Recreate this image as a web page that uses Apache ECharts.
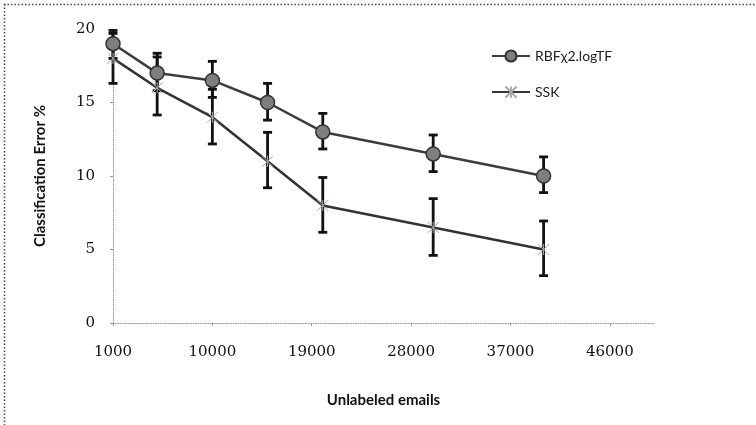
<!DOCTYPE html>
<html>
<head>
<meta charset="utf-8">
<script src="https://cdn.jsdelivr.net/npm/echarts@6/dist/echarts.min.js"></script>
<style>
  html, body { margin: 0; padding: 0; background: #fff; }
  #chart { width: 756px; height: 425px; }
</style>
</head>
<body>
<div id="chart"></div>
<script>
// данные
const emails   = [1000, 5000, 10000, 15000, 20000, 30000, 40000];
const rbfErr   = [19, 17, 16.5, 15, 13, 11.5, 10];
const rbfLow   = [18.0, 15.8, 15.35, 13.8, 11.84, 10.3, 8.87];
const rbfHigh  = [19.9, 18.35, 17.8, 16.3, 14.26, 12.79, 11.3];
const sskErr   = [18, 16, 14, 11, 8, 6.5, 5];
const sskLow   = [16.3, 14.15, 12.18, 9.2, 6.17, 4.6, 3.22];
const sskHigh  = [19.7, 18.1, 15.9, 12.97, 9.9, 8.46, 6.94];
const xTicks   = [1000, 10000, 19000, 28000, 37000, 46000];
const seriesNames = ['RBF\u03c72.logTF', 'SSK'];

const numFont  = "'DejaVu Serif', 'Liberation Serif', serif";
const sansFont = "'Liberation Sans Narrow', Lato, 'Noto Sans', sans-serif";

function bars(lo, hi) {
  return emails.map(function (x, i) { return [x, lo[i], hi[i]]; });
}

function errorBar(params, api) {
  const x = api.value(0);
  const top = api.coord([x, api.value(2)]);
  const bot = api.coord([x, api.value(1)]);
  const w = 4.5;
  const st = { stroke: '#111', lineWidth: 2.8 };
  return {
    type: 'group',
    children: [
      { type: 'line', shape: { x1: top[0], y1: top[1], x2: bot[0], y2: bot[1] }, style: st },
      { type: 'line', shape: { x1: top[0] - w, y1: top[1], x2: top[0] + w, y2: top[1] }, style: st },
      { type: 'line', shape: { x1: bot[0] - w, y1: bot[1], x2: bot[0] + w, y2: bot[1] }, style: st }
    ]
  };
}

const chart = echarts.init(document.getElementById('chart'));
chart.setOption({
  animation: false,
  backgroundColor: '#fff',
  grid: { left: 113, right: 102, top: 29, bottom: 102 },
  legend: {
    data: seriesNames,
    orient: 'vertical',
    left: 486,
    top: 44,
    itemWidth: 38,
    itemHeight: 14,
    itemGap: 21,
    textStyle: { fontFamily: sansFont, fontSize: 14, color: '#222' }
  },
  xAxis: {
    type: 'value',
    min: 1000,
    max: 50000,
    interval: 9000,
    name: 'Unlabeled emails',
    nameLocation: 'middle',
    nameGap: 70,
    nameTextStyle: { fontFamily: sansFont, fontWeight: 'bold', fontSize: 15, color: '#111' },
    axisLine: { lineStyle: { color: '#999', type: [1, 1.5], width: 1 } },
    axisTick: { show: true, length: 3, lineStyle: { color: '#999' } },
    splitLine: { show: false },
    axisLabel: {
      margin: 22,
      fontFamily: numFont,
      fontSize: 15,
      color: '#111',
      showMaxLabel: false,
      formatter: function (v) { return xTicks.indexOf(v) >= 0 ? String(v) : ''; }
    }
  },
  yAxis: {
    type: 'value',
    min: 0,
    max: 20,
    interval: 5,
    name: 'Classification Error %',
    nameLocation: 'middle',
    nameGap: 65,
    nameTextStyle: { fontFamily: sansFont, fontWeight: 'bold', fontSize: 15, color: '#111' },
    axisLine: { show: true, lineStyle: { color: '#999', type: [1, 1.5], width: 1 } },
    axisTick: { show: true, length: 3, lineStyle: { color: '#999' } },
    splitLine: { show: false },
    axisLabel: { margin: 18, fontFamily: numFont, fontSize: 15, color: '#111' }
  },
  graphic: [
    { type: 'line', shape: { x1: 4, y1: 4.5, x2: 756, y2: 4.5 }, style: { stroke: '#444', lineWidth: 1.5, lineDash: [1.5, 2] } },
    { type: 'line', shape: { x1: 4.5, y1: 4, x2: 4.5, y2: 425 }, style: { stroke: '#444', lineWidth: 1.5, lineDash: [1.5, 2] } }
  ],
  series: [
    {
      type: 'custom',
      renderItem: errorBar,
      data: bars(sskLow, sskHigh),
      encode: { x: 0, y: [1, 2] },
      z: 1
    },
    {
      type: 'custom',
      renderItem: errorBar,
      data: bars(rbfLow, rbfHigh),
      encode: { x: 0, y: [1, 2] },
      z: 1
    },
    {
      name: seriesNames[0],
      type: 'line',
      data: emails.map(function (x, i) { return [x, rbfErr[i]]; }),
      symbol: 'circle',
      symbolSize: 14,
      lineStyle: { color: '#3c3c3c', width: 2.5 },
      itemStyle: { color: '#7f7f7f', borderColor: '#333', borderWidth: 1.5 },
      z: 3
    },
    {
      name: seriesNames[1],
      type: 'line',
      data: emails.map(function (x, i) { return [x, sskErr[i]]; }),
      symbol: 'path://M0,0L10,10M10,0L0,10M5,0L5,10',
      symbolSize: 11,
      lineStyle: { color: '#333', width: 2.5 },
      itemStyle: { color: 'none', borderColor: '#aaa', borderWidth: 1 },
      z: 3
    }
  ]
});
</script>
</body>
</html>
